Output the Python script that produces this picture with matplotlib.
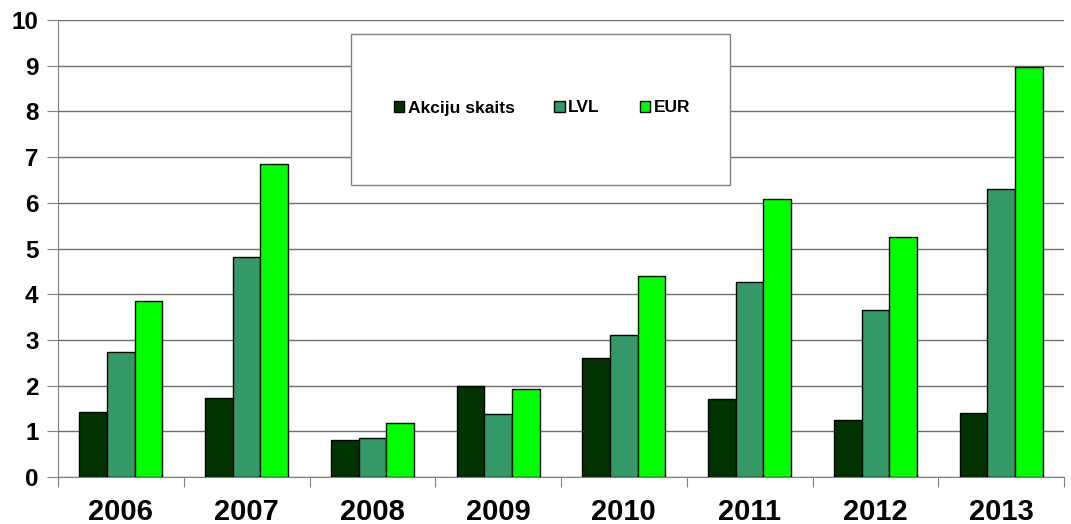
import matplotlib.pyplot as plt
import matplotlib.patches as patches
import numpy as np

years = ["2006", "2007", "2008", "2009", "2010", "2011", "2012", "2013"]
akciju_skaits = [1.43, 1.72, 0.80, 1.99, 2.61, 1.70, 1.25, 1.39]
lvl = [2.74, 4.81, 0.86, 1.37, 3.11, 4.27, 3.66, 6.31]
eur = [3.86, 6.84, 1.19, 1.92, 4.40, 6.08, 5.25, 8.98]

series_names = ["Akciju skaits", "LVL", "EUR"]
colors = ["#003300", "#339966", "#00FF00"]

plt.rcParams["font.family"] = ["Liberation Sans", "DejaVu Sans"]
plt.rcParams["font.weight"] = "bold"

fig = plt.figure(figsize=(10.71, 5.24), dpi=100)
ax = fig.add_axes([58 / 1071, 1 - 477 / 524, (1064 - 58) / 1071, (477 - 20) / 524])

x = np.arange(len(years))
width = 0.22
for i, (vals, name, col) in enumerate(zip([akciju_skaits, lvl, eur], series_names, colors)):
    ax.bar(x + (i - 1) * width, vals, width, color=col, edgecolor="black",
           linewidth=1, label=name, zorder=3)

ax.set_xlim(-0.5, len(years) - 0.5)
ax.set_ylim(0, 10)
ax.set_yticks(range(0, 11))
ax.yaxis.grid(True, color="#6e6e6e", linewidth=1, zorder=0)
ax.set_axisbelow(True)

# category labels between boundary ticks
ax.set_xticks(np.arange(len(years) + 1) - 0.5)
ax.set_xticklabels([])
ax.set_xticks(x, minor=True)
ax.set_xticklabels(years, minor=True, fontsize=21, fontweight="bold")
ax.tick_params(axis="x", which="minor", length=0, pad=15)
ax.tick_params(axis="x", which="major", length=7, color="#808080", direction="out")
ax.tick_params(axis="y", length=8, color="#808080", labelsize=17.5, pad=6)

for s in ["top", "right"]:
    ax.spines[s].set_visible(False)
ax.spines["left"].set_color("#808080")
ax.spines["bottom"].set_color("#808080")

# legend box
box = patches.Rectangle((351 / 1071, 1 - 185 / 524), (730 - 351) / 1071, (185 - 34) / 524,
                        transform=fig.transFigure, facecolor="white",
                        edgecolor="#808080", linewidth=1, zorder=5)
fig.patches.append(box)
leg = fig.legend(loc="center", bbox_to_anchor=(542 / 1071, 1 - 108 / 524),
                 ncol=3, frameon=False, handlelength=0.6,
                 handleheight=0.6, handletextpad=0.2, columnspacing=2.3,
                 prop={"weight": "bold", "size": 12.5})
leg.set_zorder(6)

fig.savefig("out.png", dpi=100)
